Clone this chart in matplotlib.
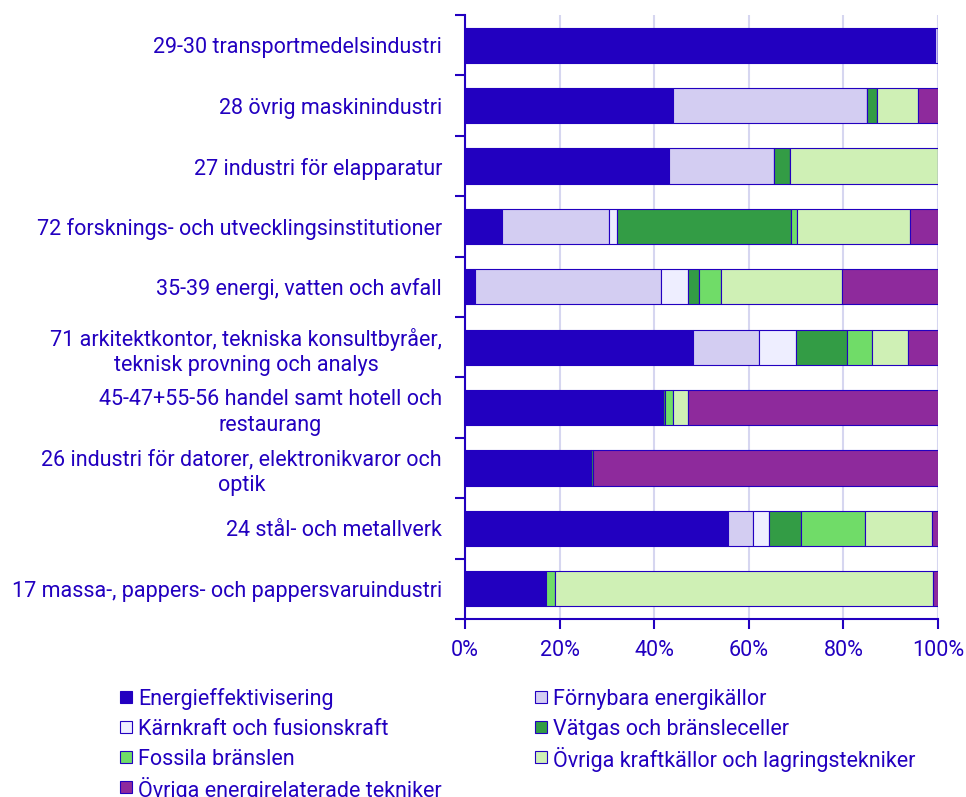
import numpy as np
import matplotlib
matplotlib.use("Agg")
import matplotlib.pyplot as plt
from matplotlib.patches import Rectangle

plt.rcParams['font.family'] = ['Roboto', 'DejaVu Sans']

BLUE = '#2200C0'

categories = [
    "29-30 transportmedelsindustri",
    "28 övrig maskinindustri",
    "27 industri för elapparatur",
    "72 forsknings- och utvecklingsinstitutioner",
    "35-39 energi, vatten och avfall",
    "71 arkitektkontor, tekniska konsultbyråer,\nteknisk provning och analys",
    "45-47+55-56 handel samt hotell och\nrestaurang",
    "26 industri för datorer, elektronikvaror och\noptik",
    "24 stål- och metallverk",
    "17 massa-, pappers- och pappersvaruindustri",
]

series_names = [
    "Energieffektivisering",
    "Förnybara energikällor",
    "Kärnkraft och fusionskraft",
    "Vätgas och bränsleceller",
    "Fossila bränslen",
    "Övriga kraftkällor och lagringstekniker",
    "Övriga energirelaterade tekniker",
]
colors = ['#2200C0', '#D3CDF2', '#EEEEFF', '#339C45', '#70DC68', '#CFF0B5', '#8E2A9C']

# shares in percent, one list per series, in category order (top to bottom)
energieff = [99.4, 43.9, 43.2, 7.9, 2.1, 48.2, 41.7, 26.7, 55.5, 17.2]
fornybara = [0.6, 41.1, 22.2, 22.5, 39.3, 14.0, 0.2, 0.0, 5.3, 0.0]
karnkraft = [0.0, 0.0, 0.0, 1.8, 5.7, 7.8, 0.0, 0.0, 3.4, 0.0]
vatgas = [0.0, 2.2, 3.4, 36.7, 2.3, 10.7, 0.3, 0.3, 6.8, 0.0]
fossila = [0.0, 0.0, 0.0, 1.3, 4.8, 5.3, 1.7, 0.0, 13.5, 1.8]
ovr_kraft = [0.0, 8.6, 31.2, 23.9, 25.5, 7.6, 3.2, 0.0, 14.2, 80.0]
ovr_energi = [0.0, 4.2, 0.0, 5.9, 20.3, 6.4, 52.9, 73.0, 1.3, 1.0]

data = [energieff, fornybara, karnkraft, vatgas, fossila, ovr_kraft, ovr_energi]

FS = 15.5
W, H = 966, 797

fig = plt.figure(figsize=(W / 100, H / 100), dpi=100)
ax = fig.add_axes([465 / W, 1 - 619 / H, 473 / W, 604 / H])

y = np.arange(len(categories))
left = np.zeros(len(categories))
for vals, name, col in zip(data, series_names, colors):
    vals = np.array(vals)
    ax.barh(y, vals, left=left, height=0.58, color=col, edgecolor=BLUE,
            linewidth=0.8, label=name, zorder=3)
    left += vals

ax.set_xlim(0, 100)
ax.set_ylim(len(categories) - 0.5, -0.5)
ax.set_xticks([0, 20, 40, 60, 80, 100])
ax.set_xticklabels(['0%', '20%', '40%', '60%', '80%', '100%'])
ax.set_yticks(y)
ax.set_yticklabels(categories, multialignment='center', linespacing=1.3)
ax.set_yticks(np.arange(-0.5, len(categories)), minor=True)

ax.tick_params(axis='y', which='major', length=0, pad=16.5, labelsize=FS, labelcolor=BLUE)
ax.tick_params(axis='y', which='minor', length=7, width=1.5, color=BLUE, direction='out')
ax.tick_params(axis='x', length=7, width=1.5, color=BLUE, pad=8, labelsize=FS, labelcolor=BLUE)

ax.grid(axis='x', color='#D6D6F0', linewidth=1.5, zorder=0)
for s in ['top', 'right']:
    ax.spines[s].set_visible(False)
for s in ['left', 'bottom']:
    ax.spines[s].set_color(BLUE)
    ax.spines[s].set_linewidth(1.5)

# legend laid out row by row, two columns
col_x = [120, 535]
row_y0, row_dy = 697, 30
sq = 12
for i, (name, col) in enumerate(zip(series_names, colors)):
    r, c = divmod(i, 2)
    px = col_x[c]
    py = row_y0 + r * row_dy
    fig.add_artist(Rectangle((px / W, 1 - (py + sq / 2) / H), sq / W, sq / H,
                             transform=fig.transFigure, facecolor=col,
                             edgecolor=BLUE, linewidth=0.8))
    fig.text((px + sq + 6) / W, 1 - py / H, name, fontsize=FS, color=BLUE,
             va='center_baseline', ha='left')

fig.savefig('out.png', dpi=100)
